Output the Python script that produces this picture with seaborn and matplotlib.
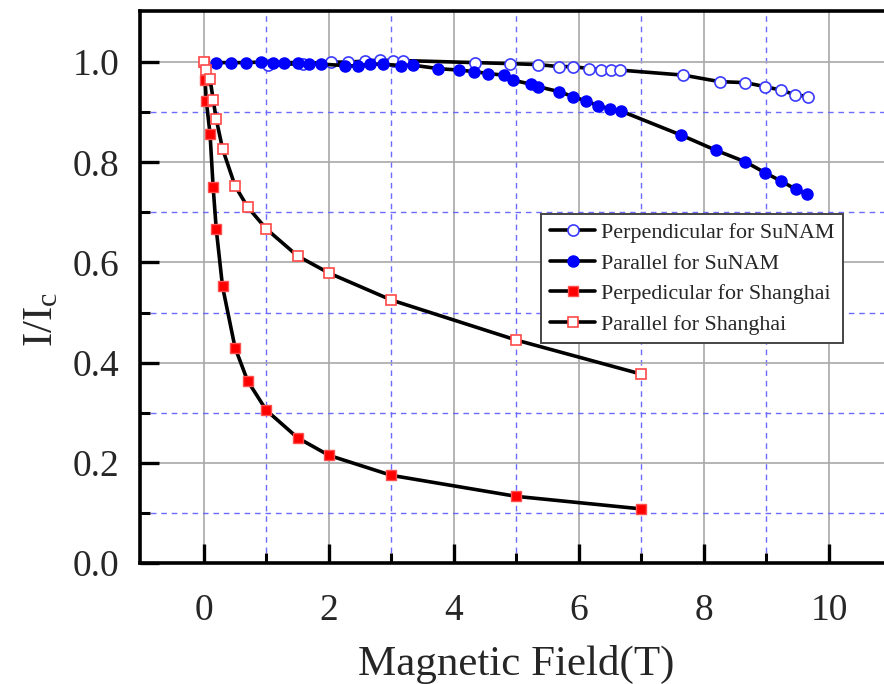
import numpy as np
import pandas as pd
import matplotlib
matplotlib.use("Agg")
import matplotlib.pyplot as plt
import seaborn as sns
from matplotlib.ticker import FixedLocator

# ---------------- data ----------------
perp_sunam_x = [1.03, 1.58, 2.04, 2.31, 2.58, 2.82, 3.03, 3.19, 4.34, 4.90, 5.35,
                5.68, 5.91, 6.16, 6.35, 6.52, 6.66, 7.67, 8.25, 8.66, 8.98, 9.23,
                9.46, 9.67]
perp_sunam_y = [0.994, 0.997, 1.000, 1.000, 1.002, 1.004, 1.003, 1.003, 0.999, 0.997,
                0.995, 0.991, 0.991, 0.987, 0.985, 0.984, 0.984, 0.974, 0.961, 0.959,
                0.951, 0.944, 0.935, 0.931]

para_sunam_x = [0.19, 0.43, 0.67, 0.91, 1.10, 1.29, 1.50, 1.68, 1.88, 2.26, 2.46,
                2.66, 2.86, 3.16, 3.34, 3.75, 4.08, 4.33, 4.55, 4.80, 4.94, 5.23,
                5.35, 5.68, 5.91, 6.12, 6.31, 6.49, 6.68, 7.64, 8.19, 8.66, 8.98,
                9.24, 9.47, 9.65]
para_sunam_y = [0.999, 0.999, 0.999, 1.000, 0.999, 0.999, 0.999, 0.996, 0.996, 0.993,
                0.992, 0.996, 0.996, 0.993, 0.994, 0.987, 0.984, 0.981, 0.977, 0.974,
                0.964, 0.956, 0.951, 0.941, 0.931, 0.922, 0.913, 0.907, 0.902, 0.854,
                0.824, 0.801, 0.779, 0.762, 0.746, 0.736]

perp_sh_x = [0.0, 0.02, 0.04, 0.1, 0.15, 0.2, 0.3, 0.5, 0.7, 1.0, 1.5, 2.0, 3.0, 5.0, 7.0]
perp_sh_y = [1.000, 0.965, 0.923, 0.857, 0.750, 0.666, 0.552, 0.430, 0.364, 0.305,
             0.250, 0.215, 0.175, 0.133, 0.108]

para_sh_x = [0.0, 0.04, 0.1, 0.15, 0.2, 0.3, 0.5, 0.7, 1.0, 1.5, 2.0, 3.0, 5.0, 7.0]
para_sh_y = [1.000, 0.985, 0.967, 0.925, 0.886, 0.827, 0.753, 0.711, 0.667, 0.613,
             0.579, 0.525, 0.445, 0.377]

labels = ["Perpendicular for SuNAM", "Parallel for SuNAM",
          "Perpedicular for Shanghai", "Parallel for Shanghai"]
x_ticks = [0, 2, 4, 6, 8, 10]
x_minor = [1, 3, 5, 7, 9]
y_ticks = [0.0, 0.2, 0.4, 0.6, 0.8, 1.0]
y_minor = [0.1, 0.3, 0.5, 0.7, 0.9]

# ---------------- style ----------------
sns.set_theme(style="white")
plt.rcParams["font.family"] = ["Liberation Serif", "DejaVu Serif"]
plt.rcParams["mathtext.fontset"] = "custom"
plt.rcParams["mathtext.rm"] = "Liberation Serif"
plt.rcParams["mathtext.it"] = "Liberation Serif:italic"

fig = plt.figure(figsize=(8.84, 6.84), dpi=100)
W, H = 884, 684
ax = fig.add_axes([140 / W, (H - 563) / H, 744 / W, (563 - 11) / H])

series = [
    (perp_sunam_x, perp_sunam_y, labels[0],
     dict(marker="o", markersize=8, markerfacecolor="white", markeredgecolor="#3a3aff",
          markeredgewidth=1.2)),
    (para_sunam_x, para_sunam_y, labels[1],
     dict(marker="o", markersize=8, markerfacecolor="#0000ff", markeredgecolor="#0000ff",
          markeredgewidth=1.0)),
    (perp_sh_x, perp_sh_y, labels[2],
     dict(marker="s", markersize=7.5, markerfacecolor="#ff0000", markeredgecolor="#ff5050",
          markeredgewidth=1.0)),
    (para_sh_x, para_sh_y, labels[3],
     dict(marker="s", markersize=7.5, markerfacecolor="white", markeredgecolor="#ff4848",
          markeredgewidth=1.2)),
]

for xs, ys, lab, mk in series:
    df = pd.DataFrame({"B": xs, "I": ys})
    sns.lineplot(data=df, x="B", y="I", ax=ax, color="black", linewidth=2.6,
                 sort=False, estimator=None, label=lab, **mk)

ax.set_xlim(-1.02, 10.88)
ax.set_ylim(0.0, 1.102)
ax.set_xticks(x_ticks)
ax.set_xticklabels([str(t) for t in x_ticks])
ax.set_yticks(y_ticks)
ax.set_yticklabels([f"{t:.1f}" for t in y_ticks])
ax.xaxis.set_minor_locator(FixedLocator(x_minor))
ax.yaxis.set_minor_locator(FixedLocator(y_minor))

ax.set_axisbelow(True)
ax.grid(which="major", color="#a8a8a8", linestyle="-", linewidth=1.2)
ax.grid(which="minor", color="#6b6bff", linestyle=(0, (4, 3.5)), linewidth=1.0)

for side in ["left", "bottom", "top"]:
    ax.spines[side].set_visible(True)
    ax.spines[side].set_color("black")
    ax.spines[side].set_linewidth(2.6)
ax.spines["right"].set_visible(False)

ax.tick_params(which="major", direction="in", length=14, width=2.4, color="black",
               labelsize=27, bottom=True, left=True, top=False, right=False)
ax.tick_params(which="minor", direction="in", length=7, width=2.2, color="black",
               bottom=True, left=True, top=False, right=False)
ax.tick_params(axis="x", which="major", pad=22)
ax.tick_params(axis="y", which="major", pad=15)

ax.set_xlabel("")
ax.set_ylabel("")
fig.text(516 / W, (H - 675) / H, "Magnetic Field(T)", ha="center", va="baseline",
         fontsize=31)
fig.text(42 / W, (H - 292) / H, r"I/I$_{\mathrm{c}}$", ha="right", va="center",
         rotation=90, fontsize=31, rotation_mode="anchor")

leg = ax.legend(loc="upper right", bbox_to_anchor=(843 / W, (H - 214) / H),
                bbox_transform=fig.transFigure, fontsize=15.8, frameon=True,
                fancybox=False, framealpha=1, edgecolor="#444444", borderpad=0.4,
                labelspacing=0.46, handlelength=2.05, handletextpad=0.25,
                borderaxespad=0)
leg.get_frame().set_linewidth(1.4)

fig.savefig("out.png", dpi=100)
